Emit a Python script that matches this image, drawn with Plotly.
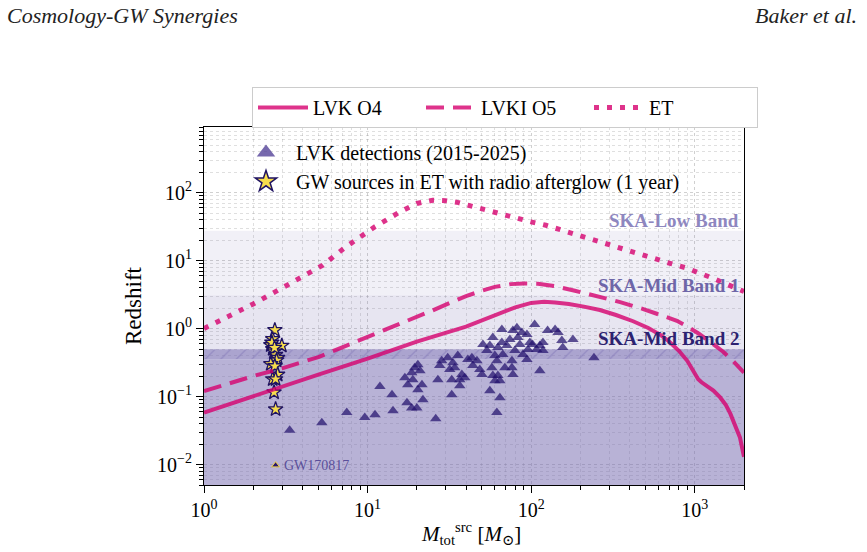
import math
import plotly.graph_objects as go

# ---------------- data ----------------
# Detection horizons (source-frame total mass [Msun] vs redshift)
O4_M = [1, 2, 5, 10, 20, 40, 60, 80, 100, 120, 140, 170, 210, 263, 330, 420, 520, 620, 700, 800, 900, 1000, 1050, 1100, 1180, 1300, 1430, 1550, 1650, 1770, 1890, 2000]
O4_Z = [0.058, 0.102, 0.21, 0.36, 0.64, 1.07, 1.58, 2.05, 2.38, 2.47, 2.42, 2.3, 2.1, 1.87, 1.58, 1.28, 1.02, 0.8, 0.64, 0.47, 0.335, 0.225, 0.18, 0.162, 0.146, 0.122, 0.097, 0.075, 0.056, 0.038, 0.025, 0.013]

O5_M = [1, 2, 3, 5, 7, 10, 14, 18, 25, 32, 40, 50, 60, 75, 90, 110, 140, 185, 263, 350, 480, 620, 778, 900, 1060, 1250, 1485, 1700, 1900, 2000]
O5_Z = [0.12, 0.2, 0.26, 0.38, 0.53, 0.75, 1.03, 1.32, 1.85, 2.4, 3.0, 3.6, 4.1, 4.5, 4.6, 4.55, 4.2, 3.6, 2.95, 2.45, 1.95, 1.6, 1.3, 1.07, 0.84, 0.63, 0.46, 0.34, 0.26, 0.225]

ET_M = [1, 1.5, 2, 3.2, 5.3, 7.4, 11, 16, 20, 25, 30, 36, 43, 60, 75, 100, 123, 160, 200, 260, 326, 400, 483, 600, 706, 885, 1076, 1312, 1600, 2000]
ET_Z = [1.0, 1.6, 2.3, 4.3, 8.5, 16, 31, 53, 69, 77, 76, 71, 63, 52, 45, 37, 33, 27, 23, 19, 15.8, 13.6, 12, 10.3, 9.1, 7.8, 6.6, 5.4, 4.4, 3.5]

# LVK detections (2015-2025)
LVK_M = [3.34, 5.25, 7.46, 9.61, 11.1, 11.9, 14.1, 14.3, 17.4, 18.6, 20.0, 21.8, 20.3, 26.1,
         16.9, 17.6, 18.6, 18.9, 19.4, 20.3, 20.9, 21.5,
         26.9, 27.6, 28.4, 30.9, 31.8, 32.7, 33.2, 34.1, 35.6, 36.6, 36.6, 37.7, 39.3, 32.7,
         41.0, 43.4, 44.0, 46.6, 48.5, 50.0, 55.9, 64.4, 61.7,
         50.7, 53.6, 55.9, 58.3, 60.0, 61.7, 57.5, 58.3, 62.6, 62.6, 66.2, 66.2, 67.1, 69.0,
         71.0, 74.1, 76.3, 77.3, 79.5, 81.8, 82.9, 85.3, 87.7, 89.0, 94.2, 95.5, 98.2, 94.2,
         102, 105, 108, 113, 118, 118, 113, 77.3, 76.3, 64.4, 60.0,
         126, 140, 146, 154, 156, 180, 242]
LVK_Z = [0.032, 0.041, 0.058, 0.049, 0.054, 0.140, 0.106, 0.062, 0.081, 0.068, 0.068, 0.090, 0.126, 0.047,
         0.189, 0.149, 0.224, 0.177, 0.266, 0.294, 0.240, 0.149,
         0.177, 0.285, 0.337, 0.373, 0.249, 0.177, 0.315, 0.266, 0.400, 0.177, 0.144, 0.210, 0.189, 0.106,
         0.349, 0.373, 0.285, 0.337, 0.249, 0.210, 0.122, 0.096, 0.058,
         0.581, 0.474, 0.561, 0.737, 0.400, 0.337, 0.266, 0.203, 0.203, 0.525, 0.967, 0.622, 0.414, 0.266,
         0.561, 0.688, 0.337, 0.934, 0.474, 1.03, 0.737, 0.581, 0.873, 0.414, 0.816, 0.490, 0.622, 0.349,
         0.581, 1.15, 0.490, 0.561, 0.622, 0.474, 0.240, 0.210, 0.266, 0.171, 0.171,
         0.934, 0.967, 0.873, 0.665, 0.525, 0.688, 0.373]

# GW sources in ET with radio afterglow (1 year)
ET_RADIO_M = [2.71, 2.63, 2.56, 2.99, 2.63, 2.68, 2.74, 2.82, 2.78, 2.56, 2.71, 2.82, 2.63, 2.74, 2.68, 2.74, 2.60, 2.70]
ET_RADIO_Z = [0.95, 0.70, 0.57, 0.56, 0.50, 0.46, 0.41, 0.37, 0.34, 0.30, 0.28, 0.21, 0.18, 0.18, 0.115, 0.065, 0.62, 0.52]

GW170817_M = [2.74]
GW170817_Z = [0.0098]

# SKA HI bands (redshift ranges)
SKA_BANDS = ["SKA-Low Band", "SKA-Mid Band 1", "SKA-Mid Band 2"]
SKA_ZLO = [3.06, 0.353, 0.0001]
SKA_ZHI = [27.4, 3.06, 0.495]

X_TICKS = [1, 10, 100, 1000]
X_TICKTEXT = ["10<sup>0</sup>", "10<sup>1</sup>", "10<sup>2</sup>", "10<sup>3</sup>"]
Y_TICKS = [0.01, 0.1, 1, 10, 100]
Y_TICKTEXT = ["10<sup>\u22122</sup>", "10<sup>\u22121</sup>", "10<sup>0</sup>", "10<sup>1</sup>", "10<sup>2</sup>"]

X_MIN, X_MAX = 1, 2000
Y_MIN, Y_MAX = 0.005, 920

# ---------------- layout geometry (pixels) ----------------
W, H = 867, 552
L, R, T, B = 204, 744, 127, 485
def px(xp):
    return (xp - L) / (R - L)
def py(yp):
    return (B - yp) / (B - T)

SERIF = "Liberation Serif, DejaVu Serif, serif"
LINE_COL = "rgba(214,0,110,0.8)"
TRI_COL = "rgba(36,18,110,0.72)"

fig = go.Figure()

# --- SKA bands ---
band_low = (SKA_ZLO[0], SKA_ZHI[0])
mid1_only = (SKA_ZHI[2], SKA_ZHI[1])
overlap = (SKA_ZLO[1], SKA_ZHI[2])
band2_only = (SKA_ZLO[2], SKA_ZLO[1])

def band(lo, hi, color, pattern=None):
    kw = dict(
        x=[X_MIN, X_MAX, X_MAX, X_MIN, X_MIN], y=[lo, lo, hi, hi, lo],
        mode="lines", line=dict(width=0), fill="toself", fillcolor=color,
        hoverinfo="skip", showlegend=False,
    )
    if pattern:
        kw["fillpattern"] = pattern
    fig.add_trace(go.Scatter(**kw))

band(*band_low, "rgba(118,107,177,0.10)")
band(*mid1_only, "rgba(118,107,177,0.175)")
band(*band2_only, "rgba(118,107,177,0.52)")
band(*overlap, "rgba(118,107,177,0.61)",
     pattern=dict(shape="/", bgcolor="rgba(118,107,177,0.61)", fgcolor="rgba(140,130,190,0.9)",
                  size=11, solidity=0.1, fillmode="replace"))

# --- LVK detections ---
fig.add_trace(go.Scatter(
    x=LVK_M, y=LVK_Z, mode="markers", showlegend=False,
    marker=dict(symbol="triangle-up", size=10, color=TRI_COL, line=dict(width=0)),
))
# --- ET radio afterglow sources ---
fig.add_trace(go.Scatter(
    x=ET_RADIO_M, y=ET_RADIO_Z, mode="markers", showlegend=False,
    marker=dict(symbol="star", size=11, color="#f6dc4c", line=dict(width=1.3, color="#1e1262")),
))
# --- GW170817 ---
fig.add_trace(go.Scatter(
    x=GW170817_M, y=GW170817_Z, mode="markers", showlegend=False,
    marker=dict(symbol="triangle-up", size=7, color="#2a1870", line=dict(width=1, color="#f2d64a")),
))
# legend entries (larger symbols, as in the original legend)
fig.add_trace(go.Scatter(
    x=[None], y=[None], mode="markers", name="LVK detections (2015-2025)", legend="legend2",
    marker=dict(symbol="triangle-up", size=16, color="rgba(80,62,150,0.78)", line=dict(width=0)),
))
fig.add_trace(go.Scatter(
    x=[None], y=[None], mode="markers", name="GW sources in ET with radio afterglow (1 year)", legend="legend2",
    marker=dict(symbol="star", size=16, color="#f6dc4c", line=dict(width=1.5, color="#1e1262")),
))

# --- horizons ---
fig.add_trace(go.Scatter(x=O4_M, y=O4_Z, mode="lines", name="LVK O4",
                         line=dict(color=LINE_COL, width=4), legend="legend"))
fig.add_trace(go.Scatter(x=O5_M, y=O5_Z, mode="lines", name="LVKI O5",
                         line=dict(color=LINE_COL, width=4, dash="18px,9px"), legend="legend"))
fig.add_trace(go.Scatter(x=ET_M, y=ET_Z, mode="lines", name="ET",
                         line=dict(color=LINE_COL, width=5, dash="5px,8px"), legend="legend"))

# --- annotations ---
ann = []
band_label_colors = ["#8e87bf", "#6e66a8", "#2c2270"]
for name, zhi, col in zip(SKA_BANDS, SKA_ZHI, band_label_colors):
    ann.append(dict(x=px(741), xref="paper", y=math.log10(zhi), yref="y", text="<b>%s</b>" % name,
                    showarrow=False, xanchor="right", yanchor="bottom", yshift=-2,
                    font=dict(family=SERIF, size=19, color=col)))
ann.append(dict(x=math.log10(GW170817_M[0]), xref="x", y=math.log10(GW170817_Z[0]), yref="y",
                text="GW170817", showarrow=False, xanchor="left", yanchor="middle", xshift=6,
                font=dict(family=SERIF, size=14, color="#5a4f9a")))
ann.append(dict(x=px(5), xref="paper", y=py(15), yref="paper", text="<i>Cosmology-GW Synergies</i>",
                showarrow=False, xanchor="left", yanchor="middle",
                font=dict(family=SERIF, size=22, color="#222")))
ann.append(dict(x=px(859), xref="paper", y=py(15), yref="paper", text="<i>Baker et al.</i>",
                showarrow=False, xanchor="right", yanchor="middle",
                font=dict(family=SERIF, size=22, color="#222")))
# x-axis title
ann.append(dict(x=px(471), xref="paper", y=py(533), yref="paper",
                text="<i>M</i><sub>tot</sub><sup>src</sup> [<i>M</i><sub>\u2299</sub>]",
                showarrow=False, xanchor="center", yanchor="middle",
                font=dict(family=SERIF, size=21, color="black")))

minor_x = [k * 10 ** e for e in range(0, 4) for k in range(2, 10)]
minor_y = [k * 10 ** e for e in range(-3, 3) for k in range(2, 10)]

axis_common = dict(
    type="log", showline=True, linecolor="black", linewidth=1.2, mirror=True,
    ticks="outside", ticklen=7, tickwidth=1, tickcolor="black",
    showgrid=True, gridcolor="rgba(150,150,150,0.45)", griddash="dot", gridwidth=1,
    tickfont=dict(family=SERIF, size=20, color="black"),
    zeroline=False,
)

fig.update_layout(
    width=W, height=H, margin=dict(l=L, r=W - R, t=T, b=H - B, autoexpand=False),
    paper_bgcolor="white", plot_bgcolor="white",
    font=dict(family=SERIF, color="black"),
    xaxis=dict(**axis_common, range=[math.log10(X_MIN), math.log10(X_MAX)],
               tickmode="array", tickvals=X_TICKS, ticktext=X_TICKTEXT,
               minor=dict(tickmode="array", tickvals=minor_x, ticks="outside", ticklen=4,
                          tickcolor="black", showgrid=True, gridcolor="rgba(150,150,150,0.3)", griddash="dot")),
    yaxis=dict(**axis_common, range=[math.log10(Y_MIN), math.log10(Y_MAX)],
               tickmode="array", tickvals=Y_TICKS, ticktext=Y_TICKTEXT,
               minor=dict(tickmode="array", tickvals=minor_y, ticks="outside", ticklen=4,
                          tickcolor="black", showgrid=True, gridcolor="rgba(150,150,150,0.3)", griddash="dot"),
               title=dict(text="Redshift", font=dict(family=SERIF, size=23, color="black"), standoff=8)),
    legend=dict(orientation="h", x=px(252), y=py(87), xanchor="left", yanchor="top",
                bordercolor="#cccccc", borderwidth=1, bgcolor="white", itemwidth=50,
                font=dict(family=SERIF, size=20, color="black"), entrywidth=103, entrywidthmode="pixels"),
    legend2=dict(x=px(236), y=py(133), xanchor="left", yanchor="top",
                 bgcolor="rgba(0,0,0,0)", borderwidth=0, itemwidth=50,
                 font=dict(family=SERIF, size=20, color="black")),
    annotations=ann,
    showlegend=True,
)

fig.write_html("out.html")
